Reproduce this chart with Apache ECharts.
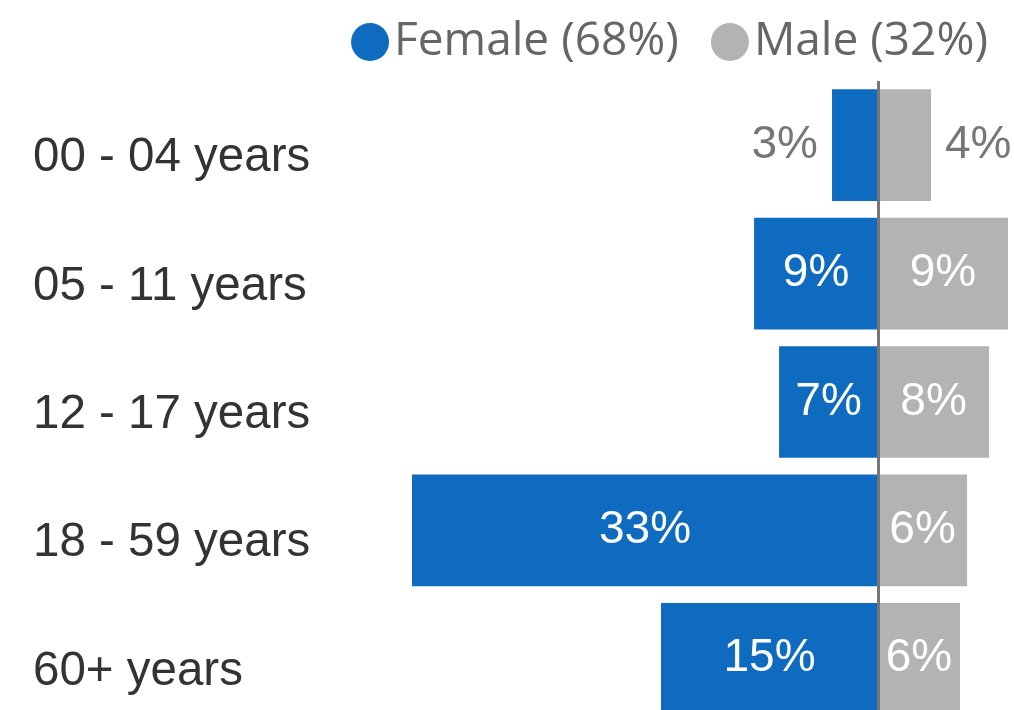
<!DOCTYPE html>
<html>
<head>
<meta charset="utf-8">
<script src="https://cdn.jsdelivr.net/npm/echarts@6/dist/echarts.min.js"></script>
<style>
  html, body { margin: 0; padding: 0; background: #fff; }
  #chart { width: 1014px; height: 710px; }
</style>
</head>
<body>
<div id="chart"></div>
<script>
// age groups, top to bottom
const ageGroups = ['00 - 04 years', '05 - 11 years', '12 - 17 years', '18 - 59 years', '60+ years']
const seriesNames = ['Female (68%)', 'Male (32%)']
// share of total (%)
const femaleShare = [3.26, 8.78, 7.01, 33.0, 15.37]
const maleShare = [3.75, 9.2, 7.86, 6.3, 5.8]
// bars too small for an inside label
const smallBars = [0]

const blue = '#0f6bc0'
const grey = '#b3b3b3'

const chart = echarts.init(document.getElementById('chart'))

const pctLabel = (p) => Math.round(Math.abs(p.value)) + '%'

const barData = (values, sign, outsidePos) => values.map((v, i) => {
  const item = { value: sign * v }
  if (smallBars.includes(i)) {
    item.label = { position: outsidePos, color: '#777', distance: 14 }
  }
  return item
})

const option = {
  animation: false,
  legend: {
    top: 14,
    right: 21,
    itemWidth: 38,
    itemHeight: 38,
    itemGap: 32,
    icon: 'circle',
    textStyle: { fontFamily: 'Open Sans', fontSize: 46, color: '#666' },
    data: seriesNames
  },
  // plot runs past the bottom edge, last row is cut off
  grid: { left: 412, right: 6, top: 81, height: 642, containLabel: false, outerBoundsMode: 'none' },
  xAxis: {
    type: 'value',
    min: (v) => v.min,
    max: (v) => v.max,
    show: false
  },
  yAxis: {
    type: 'category',
    inverse: true,
    data: ageGroups,
    axisLine: { show: false },
    axisTick: { show: false },
    axisLabel: {
      align: 'left',
      margin: 379,
      formatter: (v) => '{a|' + v + '}',
      rich: {
        a: {
          padding: [26, 0, 0, 0],
          fontFamily: 'Liberation Sans',
          fontSize: 47.5,
          color: '#333'
        }
      }
    }
  },
  series: [
    {
      name: seriesNames[0],
      type: 'bar',
      stack: 'total',
      barCategoryGap: '13%',
      itemStyle: { color: blue },
      label: {
        show: true,
        position: 'inside',
        formatter: pctLabel,
        fontFamily: 'Liberation Sans',
        fontSize: 46,
        color: '#fff'
      },
      data: barData(femaleShare, -1, 'left'),
      markLine: {
        silent: true,
        symbol: 'none',
        label: { show: false },
        lineStyle: { color: '#767676', width: 3, type: 'solid' },
        data: [{ xAxis: 0 }]
      }
    },
    {
      name: seriesNames[1],
      type: 'bar',
      stack: 'total',
      barCategoryGap: '13%',
      itemStyle: { color: grey },
      label: {
        show: true,
        position: 'inside',
        formatter: pctLabel,
        fontFamily: 'Liberation Sans',
        fontSize: 46,
        color: '#fff'
      },
      data: barData(maleShare, 1, 'right')
    }
  ]
}

chart.setOption(option)
window.addEventListener('resize', () => chart.resize())
</script>
</body>
</html>
